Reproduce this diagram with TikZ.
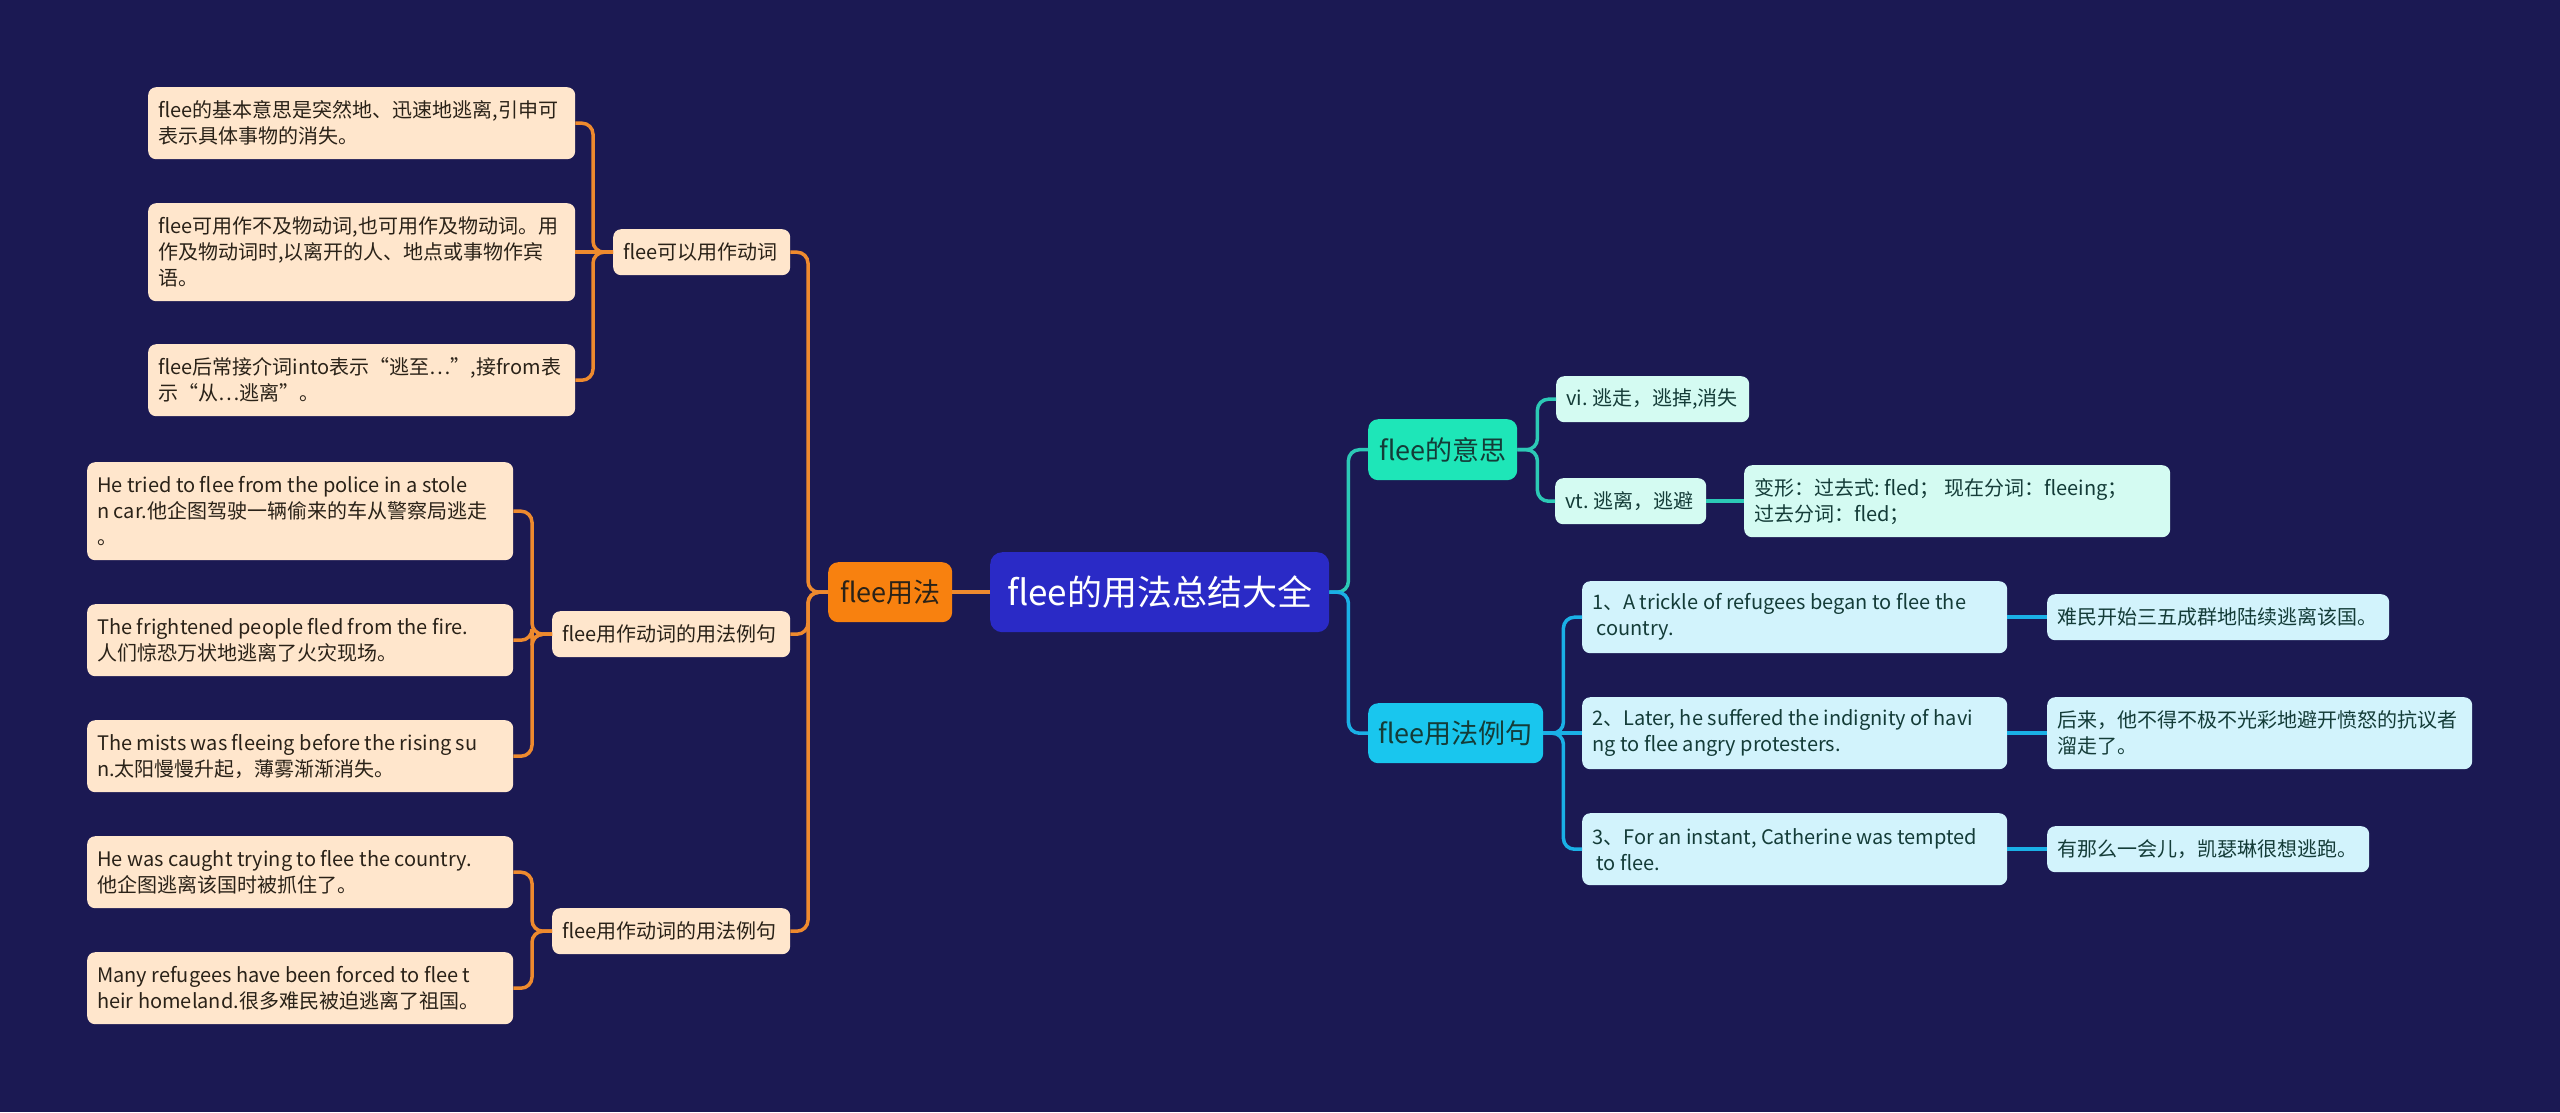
\documentclass[tikz,border=0pt]{standalone}
\usepackage{fontspec}
\setmainfont{Noto Sans CJK SC}
\definecolor{bg}{HTML}{1B1953}
\definecolor{rootblue}{HTML}{2A2AC6}
\definecolor{orangefill}{HTML}{F8810F}
\definecolor{orangeline}{HTML}{EE8A2E}
\definecolor{peach}{HTML}{FFE6CC}
\definecolor{tealfill}{HTML}{1EE6B8}
\definecolor{tealline}{HTML}{2CC9B6}
\definecolor{mint}{HTML}{D4FBF2}
\definecolor{cyanfill}{HTML}{19C6EE}
\definecolor{cyanline}{HTML}{1AB0E6}
\definecolor{lightcyan}{HTML}{D2F3FC}
\definecolor{darktext}{HTML}{2A2218}
\definecolor{darkteal}{HTML}{143C38}
\tikzset{
  box/.style={draw=none, rounded corners=8pt, inner xsep=10pt, inner ysep=0pt, align=flush left,
    anchor=north west, font=\fontsize{20}{26}\selectfont, text=darktext},
  pbox/.style={box, fill=peach},
  mbox/.style={box, fill=mint, text=darkteal},
  cbox/.style={box, fill=lightcyan, text=darkteal},
  wh/.style 2 args={text width=#1pt-20pt, minimum height=#2pt},
  lvlone/.style={draw=none, rounded corners=10pt, inner xsep=10pt, inner ysep=0pt, align=center,
    anchor=north west, font=\fontsize{27}{34}\selectfont},
  oconn/.style={draw=orangeline, line width=3.5pt, rounded corners=11pt},
  tconn/.style={draw=tealline, line width=3.5pt, rounded corners=11pt},
  cconn/.style={draw=cyanline, line width=3.5pt, rounded corners=11pt}
}
\begin{document}
\begin{tikzpicture}[x=1pt, y=-1pt]
\useasboundingbox (0,0) rectangle (2560,1112);
\fill[bg] (0,0) rectangle (2560,1112);

% root
\node[draw=none, rounded corners=12pt, fill=rootblue, text=white, anchor=north west,
  minimum width=339pt, minimum height=80pt, font=\fontsize{35}{44}\selectfont, inner sep=0pt]
  (root) at (990,552) {flee的用法总结大全};

% left level one
\node[lvlone, fill=orangefill, text=darktext, minimum width=124pt, minimum height=60pt]
  (yf) at (828,562) {flee用法};

% level two (left)
\node[pbox, wh={177}{46}] (A) at (613,229) {flee可以用作动词};
\node[pbox, wh={238}{46}] (B) at (552,611) {flee用作动词的用法例句};
\node[pbox, wh={238}{46}] (C) at (552,908) {flee用作动词的用法例句};

% A children
\node[pbox, wh={427}{72}] (A1) at (148,87)
  {flee的基本意思是突然地、迅速地逃离,引申可\\表示具体事物的消失。};
\node[pbox, wh={427}{98}] (A2) at (148,203)
  {flee可用作不及物动词,也可用作及物动词。用\\作及物动词时,以离开的人、地点或事物作宾\\语。};
\node[pbox, wh={427}{72}] (A3) at (148,344)
  {flee后常接介词into表示“逃至…”,接from表\\示“从…逃离”。};

% B children
\node[pbox, wh={426}{98}] (B1) at (87,462)
  {He tried to flee from the police in a stole\\n car.他企图驾驶一辆偷来的车从警察局逃走\\。};
\node[pbox, wh={426}{72}] (B2) at (87,604)
  {The frightened people fled from the fire.\\人们惊恐万状地逃离了火灾现场。};
\node[pbox, wh={426}{72}] (B3) at (87,720)
  {The mists was fleeing before the rising su\\n.太阳慢慢升起，薄雾渐渐消失。};

% C children
\node[pbox, wh={426}{72}] (C1) at (87,836)
  {He was caught trying to flee the country.\\他企图逃离该国时被抓住了。};
\node[pbox, wh={426}{72}] (C2) at (87,952)
  {Many refugees have been forced to flee t\\heir homeland.很多难民被迫逃离了祖国。};

% right level one
\node[lvlone, fill=tealfill, text=darkteal, minimum width=149pt, minimum height=61pt]
  (R1) at (1368,419) {flee的意思};
\node[lvlone, fill=cyanfill, text=darkteal, minimum width=175pt, minimum height=60pt]
  (R2) at (1368,703) {flee用法例句};

% R1 children
\node[mbox, wh={193}{46}] (R1a) at (1556,376) {vi.~逃走，逃掉,消失};
\node[mbox, wh={151}{46}] (R1b) at (1555,478) {vt.~逃离，逃避};
\node[mbox, wh={426}{72}] (R1c) at (1744,465)
  {变形：过去式:~fled；~现在分词：fleeing；\\过去分词：fled；};

% R2 children
\node[cbox, wh={425}{72}] (R2a) at (1582,581)
  {1、A trickle of refugees began to flee the\\\ country.};
\node[cbox, wh={425}{72}] (R2b) at (1582,697)
  {2、Later, he suffered the indignity of havi\\ng to flee angry protesters.};
\node[cbox, wh={425}{72}] (R2c) at (1582,813)
  {3、For an instant, Catherine was tempted\\\ to flee.};
\node[cbox, wh={342}{46}] (R2ax) at (2047,594) {难民开始三五成群地陆续逃离该国。};
\node[cbox, wh={425}{72}] (R2bx) at (2047,697)
  {后来，他不得不极不光彩地避开愤怒的抗议者\\溜走了。};
\node[cbox, wh={322}{46}] (R2cx) at (2047,826) {有那么一会儿，凯瑟琳很想逃跑。};

% connectors left
\draw[oconn] (root.west) -- (root.west -| yf.east);
\draw[oconn] (yf.west) -- ++(-20,0) |- (A.east);
\draw[oconn] (yf.west) -- ++(-20,0) |- (B.east);
\draw[oconn] (yf.west) -- ++(-20,0) |- (C.east);
\draw[oconn] (A.west) -- ++(-20,0) |- (A1.east);
\draw[oconn] (A.west) -- (A2.east);
\draw[oconn] (A.west) -- ++(-20,0) |- (A3.east);
\draw[oconn] (B.west) -- ++(-20,0) |- (B1.east);
\draw[oconn] (B.west) -- ++(-20,0) |- (B2.east);
\draw[oconn] (B.west) -- ++(-20,0) |- (B3.east);
\draw[oconn] (C.west) -- ++(-20,0) |- (C1.east);
\draw[oconn] (C.west) -- ++(-20,0) |- (C2.east);

% connectors right
\draw[tconn] (root.east) -- ++(19,0) |- (R1.west);
\draw[cconn] (root.east) -- ++(19,0) |- (R2.west);
\draw[tconn] (R1.east) -- ++(20,0) |- (R1a.west);
\draw[tconn] (R1.east) -- ++(20,0) |- (R1b.west);
\draw[tconn] (R1b.east) -- (R1c.west);
\draw[cconn] (R2.east) -- ++(20,0) |- (R2a.west);
\draw[cconn] (R2.east) -- (R2b.west);
\draw[cconn] (R2.east) -- ++(20,0) |- (R2c.west);
\draw[cconn] (R2a.east) -- (R2ax.west);
\draw[cconn] (R2b.east) -- (R2bx.west);
\draw[cconn] (R2c.east) -- (R2cx.west);
\end{tikzpicture}
\end{document}
